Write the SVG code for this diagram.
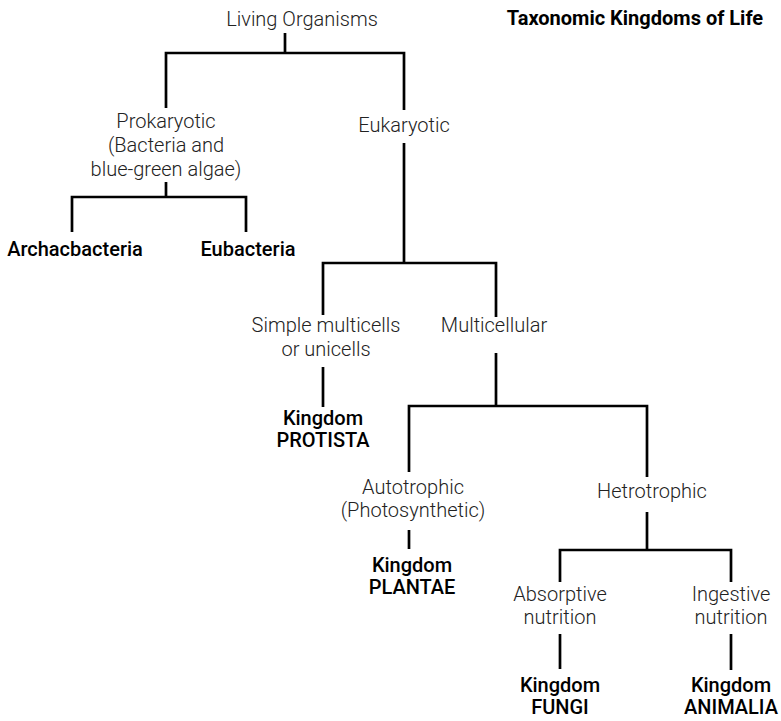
<svg xmlns="http://www.w3.org/2000/svg" width="781" height="721" viewBox="0 0 781 721">
<style>
.l{font-family:Roboto,"Liberation Sans",sans-serif;font-weight:300;font-size:20px;fill:#222;text-anchor:middle}
.b{font-family:Roboto,"Liberation Sans",sans-serif;font-weight:500;font-size:20px;fill:#000;text-anchor:middle}
.t{font-family:Roboto,"Liberation Sans",sans-serif;font-weight:700;font-size:20px;fill:#000;text-anchor:middle}
.c{fill:none;stroke:#000;stroke-width:2.7}
</style>
<rect width="781" height="721" fill="#fff"/>
<g id="connectors">
<path class="c" d="M285 33V53M166 108V53H404V110"/>
<path class="c" d="M166 182V197M72 232V197H246V232"/>
<path class="c" d="M404 143V263M323 315V263H496V317"/>
<path class="c" d="M323 367V407"/>
<path class="c" d="M496 353V406M409 472V406H647V477"/>
<path class="c" d="M409 530V549"/>
<path class="c" d="M647 512V550M560 582V550H731V582"/>
<path class="c" d="M560 634V669M731 634V670"/>
</g>
<g id="title"><text class="t" x="635" y="25">Taxonomic Kingdoms of Life</text></g>
<g id="living"><text class="l" x="302" y="26">Living Organisms</text></g>
<g id="prokaryotic"><text class="l" x="166" y="128">Prokaryotic</text><text class="l" x="166" y="152">(Bacteria and</text><text class="l" x="166" y="176">blue-green algae)</text></g>
<g id="eukaryotic"><text class="l" x="404" y="132">Eukaryotic</text></g>
<g id="archaebacteria"><text class="b" x="75" y="256">Archacbacteria</text></g>
<g id="eubacteria"><text class="b" x="248" y="256">Eubacteria</text></g>
<g id="simple"><text class="l" x="326" y="332">Simple multicells</text><text class="l" x="326" y="356">or unicells</text></g>
<g id="multicellular"><text class="l" x="494" y="332">Multicellular</text></g>
<g id="protista"><text class="b" x="323" y="425">Kingdom</text><text class="b" x="323" y="447">PROTISTA</text></g>
<g id="autotrophic"><text class="l" x="413" y="494">Autotrophic</text><text class="l" x="413" y="517">(Photosynthetic)</text></g>
<g id="hetrotrophic"><text class="l" x="652" y="498">Hetrotrophic</text></g>
<g id="plantae"><text class="b" x="412" y="572">Kingdom</text><text class="b" x="412" y="594">PLANTAE</text></g>
<g id="absorptive"><text class="l" x="560" y="601">Absorptive</text><text class="l" x="560" y="624">nutrition</text></g>
<g id="ingestive"><text class="l" x="731" y="601">Ingestive</text><text class="l" x="731" y="624">nutrition</text></g>
<g id="fungi"><text class="b" x="560" y="692">Kingdom</text><text class="b" x="560" y="714">FUNGI</text></g>
<g id="animalia"><text class="b" x="731" y="692">Kingdom</text><text class="b" x="731" y="714">ANIMALIA</text></g>
</svg>
